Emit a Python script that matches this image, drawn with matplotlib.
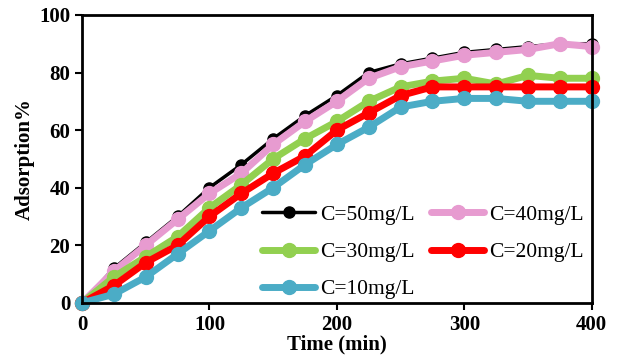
import matplotlib
matplotlib.use("Agg")
import matplotlib.pyplot as plt

time_min = [0, 25, 50, 75, 100, 125, 150, 175, 200, 225, 250, 275, 300, 325, 350, 375, 400]
c50 = [0, 12, 21, 30, 40, 48, 57, 65, 72, 80, 83, 85, 87, 88, 89, 90, 90]
c40 = [0, 11, 20, 29, 38, 45, 55, 63, 70, 78, 82, 84, 86, 87, 88, 90, 89]
c30 = [0, 9, 16, 23, 33, 41, 50, 57, 63, 70, 75, 77, 78, 76, 79, 78, 78]
c20 = [0, 6, 14, 20, 30, 38, 45, 51, 60, 66, 72, 75, 75, 75, 75, 75, 75]
c10 = [0, 3, 9, 17, 25, 33, 40, 48, 55, 61, 68, 70, 71, 71, 70, 70, 70]
labels = ["C=50mg/L", "C=40mg/L", "C=30mg/L", "C=20mg/L", "C=10mg/L"]

plt.rcParams["font.family"] = ["Liberation Serif", "DejaVu Serif"]

fig = plt.figure(figsize=(6.17, 3.64), dpi=100)
ax = fig.add_axes([0.133, 0.168, 0.826, 0.791])

styles = [
    dict(color="#000000", lw=2.5, ms=8),
    dict(color="#E79BD0", lw=5, ms=10),
    dict(color="#92D050", lw=5, ms=10),
    dict(color="#FF0000", lw=5, ms=10),
    dict(color="#4BACC6", lw=5, ms=10),
]
series = [c50, c40, c30, c20, c10]
handles = []
for vals, lab, st in zip(series, labels, styles):
    h, = ax.plot(time_min, vals, color=st["color"], lw=st["lw"], marker="o",
                 ms=st["ms"], label=lab, clip_on=False, solid_capstyle="round")
    handles.append(h)

ax.set_xlim(0, 400)
ax.set_ylim(0, 100)
ax.set_xticks([0, 100, 200, 300, 400])
ax.set_yticks([0, 20, 40, 60, 80, 100])
for s in ax.spines.values():
    s.set_linewidth(2)
ax.tick_params(direction="out", width=1.5, length=5, labelsize=15)
for t in ax.get_xticklabels() + ax.get_yticklabels():
    t.set_fontweight("bold")
ax.set_xlabel("Time (min)", fontsize=15, fontweight="bold", labelpad=0)
ax.set_ylabel("Adsorption%", fontsize=15, fontweight="bold", labelpad=3)

# legend filled row by row: (50, 40), (30, 20), (10)
order = [0, 2, 4, 1, 3]
leg = ax.legend([handles[i] for i in order], [labels[i] for i in order],
                ncol=2, frameon=False, fontsize=15.5, loc="lower right",
                bbox_to_anchor=(1.01, -0.033), handlelength=2.45,
                handletextpad=0.25, columnspacing=0.75, labelspacing=0.8,
                borderaxespad=0.2)

fig.savefig("out.png", dpi=100)
